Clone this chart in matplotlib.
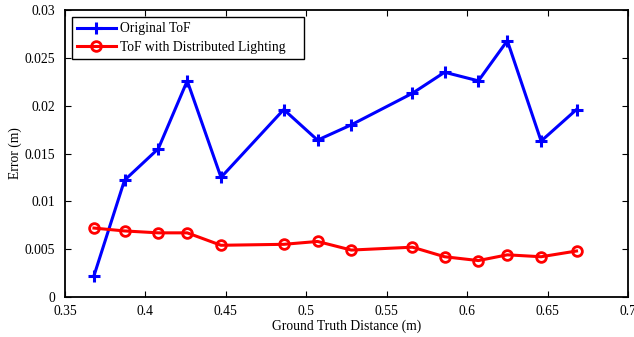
import matplotlib

matplotlib.use("Agg")
import matplotlib.pyplot as plt

# distancias (m) y errores
distance = [0.368, 0.387, 0.408, 0.426, 0.447, 0.486, 0.507, 0.528,
            0.566, 0.586, 0.607, 0.625, 0.646, 0.668]
err_original = [0.0022, 0.0122, 0.0155, 0.0226, 0.0125, 0.0196, 0.0164, 0.0180,
                0.0213, 0.0235, 0.0226, 0.0268, 0.0163, 0.0196]
err_distributed = [0.0072, 0.0069, 0.0067, 0.0067, 0.0054, 0.0055, 0.0058, 0.0049,
                   0.0052, 0.0042, 0.0038, 0.0044, 0.0042, 0.0048]

x_ticks = [0.35, 0.4, 0.45, 0.5, 0.55, 0.6, 0.65, 0.7]
y_ticks = [0, 0.005, 0.01, 0.015, 0.02, 0.025, 0.03]

plt.rcParams["font.family"] = ["Liberation Serif", "DejaVu Serif"]
plt.rcParams["font.size"] = 9.8

fig = plt.figure(figsize=(6.34, 3.37), dpi=100)
ax = fig.add_axes([0.1025, 0.119, 0.888, 0.851])

ax.plot(distance, err_original, color="#0000ff", lw=2.2, marker="+",
        ms=8, mew=2.2, label="Original ToF")
ax.plot(distance, err_distributed, color="#ff0000", lw=2.2, marker="o",
        ms=7, mew=2.0, mfc="none", label="ToF with Distributed Lighting")

ax.set_xlim(0.35, 0.7)
ax.set_ylim(0, 0.03)
ax.set_xticks(x_ticks)
ax.set_xticklabels([f"{t:g}" for t in x_ticks])
ax.set_yticks(y_ticks)
ax.set_yticklabels([f"{t:g}" for t in y_ticks])
ax.tick_params(direction="in", top=True, right=True, length=4, width=0.8)
ax.tick_params(axis="x", pad=6)
ax.tick_params(axis="y", pad=7)
for s in ax.spines.values():
    s.set_linewidth(1.3)

ax.set_xlabel("Ground Truth Distance (m)", labelpad=1)
ax.set_ylabel("Error (m)", labelpad=2)

# caja de leyenda algo más ancha que el texto, como en el original
leg = ax.legend(loc="upper left", bbox_to_anchor=(0.0124, 0.976, 0.412, 0.0),
                mode="expand", fancybox=False, framealpha=1,
                edgecolor="black", borderaxespad=0, handlelength=2.8,
                handletextpad=0.35, labelspacing=0.4, borderpad=0.4)
leg.get_frame().set_linewidth(1.0)

fig.savefig("out.png", dpi=100)
